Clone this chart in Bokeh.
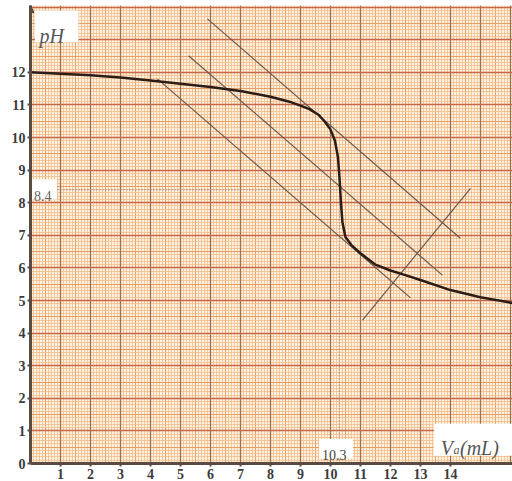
from bokeh.plotting import figure
from bokeh.models import (Grid, SingleIntervalTicker, FixedTicker, Label, BoxAnnotation,
                          Arrow, NormalHead, Range1d)
from bokeh.embed import file_html
from bokeh.resources import INLINE

# ---- data ----
va = [0, 1, 2, 3, 4, 5, 6, 7, 8, 8.7, 9.0, 9.3, 9.6, 9.8, 10.0, 10.15, 10.25, 10.3,
      10.35, 10.4, 10.5, 10.7, 11.0, 11.5, 12.0, 12.5, 13, 14, 15, 16.1]
ph = [12.0, 11.96, 11.91, 11.84, 11.75, 11.65, 11.55, 11.43, 11.25, 11.08, 10.98, 10.87,
      10.7, 10.5, 10.25, 9.9, 9.4, 8.8, 8.0, 7.4, 6.95, 6.7, 6.45, 6.1, 5.92, 5.78, 5.63,
      5.32, 5.1, 4.92]

lower_x = [4.23, 12.67]
lower_y = [11.80, 5.08]
mid_x = [5.27, 13.73]
mid_y = [12.51, 5.78]
upper_x = [5.9, 14.33]
upper_y = [13.64, 6.91]
cross_x = [11.07, 14.67]
cross_y = [4.40, 8.44]

v_eq = 10.3
ph_eq = 8.4

x_ticks = [1, 2, 3, 4, 5, 6, 7, 8, 9, 10, 11, 12, 13, 14]
y_ticks = [0, 1, 2, 3, 4, 5, 6, 7, 8, 9, 10, 11, 12]

# ---- figure ----
p = figure(width=512, height=481, x_range=Range1d(0, 16.07), y_range=Range1d(0, 14.05),
           output_backend="svg", toolbar_location=None,
           min_border_left=30, min_border_right=0, min_border_top=5, min_border_bottom=17)
p.outline_line_color = None
p.background_fill_color = "#fdf1df"
p.border_fill_color = "white"
p.xgrid.visible = False
p.ygrid.visible = False

# graph-paper grid
for dim in (0, 1):
    p.add_layout(Grid(dimension=dim, ticker=SingleIntervalTicker(interval=0.1),
                      grid_line_color="#f2bd8c", grid_line_width=1, grid_line_alpha=0.8))
    p.add_layout(Grid(dimension=dim, ticker=SingleIntervalTicker(interval=0.5),
                      grid_line_color="#e39a62", grid_line_width=1, grid_line_alpha=0.9))
p.add_layout(Grid(dimension=0, ticker=SingleIntervalTicker(interval=1),
                  grid_line_color="#9c7050", grid_line_width=1.3))
p.add_layout(Grid(dimension=1, ticker=SingleIntervalTicker(interval=1),
                  grid_line_color="#c8684a", grid_line_width=1.3))

for ax in (p.xaxis, p.yaxis):
    ax.axis_line_color = "#5a4a42"
    ax.axis_line_width = 3
    ax.major_tick_line_color = "#5a4a42"
    ax.major_tick_line_width = 2
    ax.major_tick_in = 0
    ax.major_tick_out = 3
    ax.minor_tick_line_color = None
    ax.major_label_text_font = "Liberation Serif"
    ax.major_label_text_font_style = "bold"
    ax.major_label_text_font_size = "14px"
    ax.major_label_text_color = "#3c3c3c"
    ax.major_label_standoff = 2
p.xaxis.ticker = FixedTicker(ticks=x_ticks)
p.yaxis.ticker = FixedTicker(ticks=y_ticks)

# equivalence dotted lines
p.line([0, v_eq], [ph_eq, ph_eq], line_color="#8a8a8a", line_width=1.2, line_dash="1 2")
p.line([v_eq, v_eq], [0, ph_eq], line_color="#8a8a8a", line_width=1.2, line_dash="1 2")

# tangent lines
for xs, ys in ((lower_x, lower_y), (mid_x, mid_y), (upper_x, upper_y), (cross_x, cross_y)):
    p.line(xs, ys, line_color="#6b5a50", line_width=1.2)

# titration curve
p.line(va, ph, line_color="#2b1d16", line_width=2.5)

# y-axis arrow
p.add_layout(Arrow(end=NormalHead(size=7, fill_color="#5a4a42", line_color="#5a4a42"),
                   x_start=0, y_start=13.6, x_end=0, y_end=14.05,
                   line_color="#5a4a42", line_width=2))

# label boxes
p.add_layout(BoxAnnotation(left=0.15, right=1.6, bottom=12.92, top=13.9,
                           fill_color="white", fill_alpha=1, line_color=None))
p.add_layout(BoxAnnotation(left=0.05, right=0.88, bottom=8.1, top=8.72,
                           fill_color="white", fill_alpha=1, line_color=None))
p.add_layout(BoxAnnotation(left=9.62, right=10.75, bottom=0.15, top=0.75,
                           fill_color="white", fill_alpha=1, line_color=None))
p.add_layout(BoxAnnotation(left=13.45, right=16.07, bottom=0.24, top=1.22,
                           fill_color="white", fill_alpha=1, line_color=None))

def lab(text, x, y, size, style="normal", color="#4a4a4a"):
    p.add_layout(Label(x=x, y=y, text=text, text_font="Liberation Serif",
                       text_font_size=size, text_font_style=style, text_color=color,
                       text_baseline="alphabetic", text_align="left"))

lab("pH", 0.3, 13.1, "20px", "italic", "#555555")
lab("8.4", 0.12, 8.2, "14px", "normal", "#666666")
lab("10.3", 9.72, 0.26, "14px", "normal", "#444444")
lab("V", 13.68, 0.49, "20px", "italic", "#555555")
lab("a", 14.1, 0.40, "12px", "italic", "#555555")
lab("(mL)", 14.32, 0.49, "20px", "italic", "#555555")

open("out.html", "w").write(file_html(p, INLINE))
